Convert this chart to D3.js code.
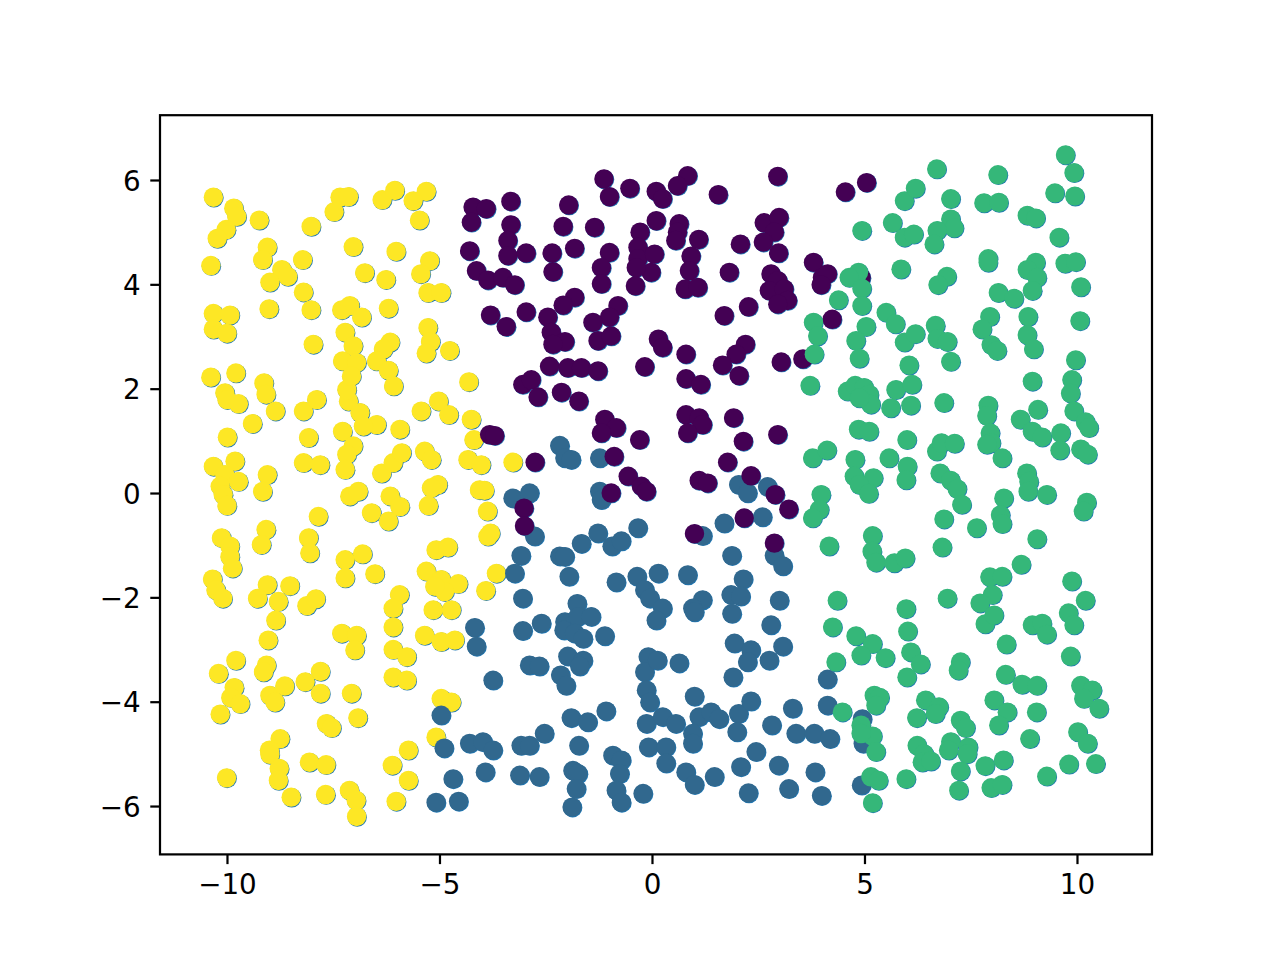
<!DOCTYPE html>
<html><head><meta charset="utf-8">
<script src="https://cdn.jsdelivr.net/npm/d3@7"></script>
<style>body{margin:0;background:#fff}svg{display:block}</style>
</head><body>
<svg id="chart" width="1280" height="960"></svg>
<script>
const xTicks = [-10, -5, 0, 5, 10];
const yTicks = [-6, -4, -2, 0, 2, 4, 6];
const clusterColors = ["#fde725", "#31688e", "#440154", "#35b779"];

const yellowPts = [[-10.32,5.67],[-9.84,5.46],[-9.77,5.30],[-9.24,5.23],[-10.02,5.05],[-10.23,4.88],[-10.38,4.36],[-9.05,4.71],[-9.16,4.47],[-8.71,4.28],[-8.57,4.15],[-8.99,4.04],[-8.22,4.47],[-8.02,5.11],[-7.34,5.67],[-7.14,5.68],[-7.48,5.39],[-6.35,5.62],[-6.05,5.80],[-7.03,4.72],[-6.02,4.63],[-8.20,3.85],[-6.76,4.22],[-6.26,4.09],[-10.32,3.44],[-9.93,3.41],[-10.32,3.14],[-10.0,3.06],[-9.01,3.53],[-8.02,3.51],[-7.30,3.51],[-7.11,3.59],[-6.83,3.37],[-7.22,3.08],[-7.03,2.82],[-6.20,3.54],[-7.97,2.85],[-6.16,2.89],[-6.32,2.76],[-7.28,2.53],[-6.95,2.50],[-6.48,2.53],
[-5.31,5.78],[-5.62,5.60],[-5.47,5.23],[-5.23,4.45],[-5.44,4.20],[-5.27,3.84],[-4.96,3.84],[-5.27,3.17],[-5.21,2.90],[-5.31,2.68],[-4.76,2.73],
[-10.38,2.22],[-9.79,2.30],[-10.05,1.92],[-10.0,1.79],[-9.73,1.71],[-9.13,2.11],[-9.08,1.89],[-8.86,1.57],[-9.40,1.33],[-9.99,1.07],[-8.20,1.57],[-7.89,1.79],[-8.08,1.06],[-8.20,0.58],[-7.81,0.54],[-7.28,1.18],[-7.14,1.76],[-7.03,0.90],[-7.18,0.74],[-7.22,0.45],[-6.87,1.54],[-6.48,1.31],[-6.79,1.28],[-7.18,1.98],[-7.07,2.24],[-5.93,1.22],[-6.36,0.38],[-6.09,0.58],[-5.89,0.77],[-10.32,0.51],[-9.81,0.61],[-10.05,0.35],[-9.73,0.22],[-10.16,0.13],[-10.09,-0.03],[-10.0,-0.24],[-9.05,0.35],[-9.16,0.03],[-7.11,-0.06],[-6.91,0.03],[-6.60,-0.38],[-6.16,-0.06],[-5.93,-0.26],[-6.20,-0.54],[-7.85,-0.45],[-8.08,-0.86],[-8.05,-1.15],[-9.08,-0.70],[-9.19,-0.99],[-10.13,-0.86],[-9.93,-1.02],[-9.93,-1.22],[-9.87,-1.44],[-10.34,-1.65],[-10.26,-1.86],[-10.10,-2.02],[-9.05,-1.76],[-9.28,-2.02],[-8.79,-2.08],[-8.52,-1.78],[-8.12,-2.16],[-7.91,-2.03],[-7.22,-1.28],[-6.81,-1.17],[-7.22,-1.63],[-6.52,-1.55],[-5.94,-1.95],[-6.09,-2.21],[-6.20,2.35],[-6.08,2.05],
[-4.31,2.13],[-5.43,1.57],[-5.02,1.76],[-4.78,1.50],[-4.25,1.41],[-4.19,1.02],[-5.35,0.80],[-5.19,0.64],[-4.33,0.64],[-4.02,0.54],[-3.27,0.59],[-5.04,0.16],[-5.19,0.10],[-4.06,0.06],[-3.94,0.05],[-5.26,-0.24],[-3.87,-0.35],[-3.80,-0.77],[-3.86,-0.83],[-5.08,-1.09],[-4.80,-1.04],[-5.31,-1.50],[-4.96,-1.66],[-4.56,-1.74],[-4.88,-1.89],[-5.11,-1.79],[-3.66,-1.54],[-3.91,-1.87],[-5.15,-2.24],[-4.72,-2.24],
[-8.85,-2.44],[-9.03,-2.82],[-7.30,-2.69],[-6.95,-2.73],[-6.99,-3.01],[-6.09,-2.57],[-6.09,-3.00],[-5.77,-3.14],[-6.09,-3.53],[-5.77,-3.59],[-9.79,-3.21],[-10.20,-3.46],[-9.07,-3.30],[-9.14,-3.43],[-9.83,-3.73],[-9.91,-3.92],[-9.69,-4.04],[-10.16,-4.24],[-8.99,-3.88],[-8.87,-4.01],[-8.64,-3.70],[-8.16,-3.62],[-7.80,-3.42],[-7.80,-3.84],[-7.07,-3.84],[-6.92,-4.31],[-7.66,-4.42],[-7.54,-4.50],[-8.75,-4.71],[-9.00,-4.93],[-8.99,-5.01],[-8.77,-5.28],[-8.79,-5.51],[-8.49,-5.83],[-10.01,-5.46],[-8.06,-5.16],[-7.67,-5.21],[-7.68,-5.78],[-7.12,-5.70],[-6.96,-5.89],[-6.95,-6.20],[-6.11,-5.22],[-6.02,-5.91],[-5.73,-4.93],[-5.73,-5.51],
[-5.35,-2.73],[-4.96,-2.85],[-4.64,-2.82],[-4.96,-3.94],[-4.72,-4.01],[-5.08,-4.68]];

const bluePts = [[-2.17,0.91],[-2.05,0.67],[-1.90,0.64],[-1.23,0.67],[-1.23,0.03],[-1.19,-0.13],[-3.27,-0.10],[-2.88,0.00],[-2.76,-0.83],[-3.08,-1.20],[-3.23,-1.54],[-3.04,-2.02],[-2.17,-1.21],[-2.05,-1.22],[-1.95,-1.60],[-1.66,-0.97],[-1.27,-0.77],[-0.94,-1.02],[-0.72,-0.92],[-0.33,-0.67],[-0.84,-1.71],[-0.35,-1.60],[-0.17,-1.86],[-0.05,-2.02],[-1.76,-2.12],
[2.04,0.16],[2.25,0.00],[2.72,0.12],[2.60,-0.46],[1.70,-0.58],[1.19,-0.82],[1.88,-1.20],[2.88,-1.20],[3.08,-1.40],[0.15,-1.54],[0.84,-1.57],[2.15,-1.65],[1.86,-1.95],[2.09,-1.98],[1.19,-2.05],[0.96,-2.21],[0.25,-2.21],[3.00,-2.06],
[-4.17,-2.58],[-4.13,-2.94],[-3.04,-2.64],[-2.60,-2.50],[-2.05,-2.47],[-2.07,-2.63],[-1.74,-2.37],[-1.43,-2.37],[-1.82,-2.69],[-1.62,-2.79],[-1.11,-2.74],[-1.98,-3.13],[-1.62,-3.21],[-1.70,-3.32],[-2.88,-3.30],[-2.65,-3.32],[-2.15,-3.49],[-2.02,-3.69],[-3.74,-3.59],[-4.96,-4.26],[-1.90,-4.31],[-1.51,-4.39],[-1.08,-4.18],[-2.53,-4.61],[-4.29,-4.80],[-3.98,-4.77],[-3.74,-4.93],[-4.89,-4.89],[-3.08,-4.84],[-2.88,-4.84],[-1.72,-4.84],[-0.92,-5.03],[-0.72,-5.12],[-0.76,-5.38],[-3.92,-5.35],[-4.68,-5.48],[-3.11,-5.41],[-2.65,-5.44],[-1.86,-5.32],[-1.74,-5.38],[-1.78,-5.67],[-5.08,-5.93],[-4.55,-5.91],[-1.88,-6.02],[-0.84,-5.70],[-0.72,-5.93],[-0.21,-5.76],[-0.09,-3.14],[-0.17,-3.43],[-0.13,-3.78],[-0.05,-4.01],[-0.13,-4.42],[-0.08,-4.87],[0.10,-2.44],
[1.00,-2.28],[1.88,-2.31],[2.80,-2.53],[1.94,-2.88],[2.33,-3.01],[2.25,-3.24],[2.76,-3.21],[3.08,-2.94],[0.13,-3.21],[0.64,-3.26],[1.91,-3.53],[1.00,-3.90],[0.25,-4.29],[0.56,-4.42],[1.11,-4.29],[1.39,-4.20],[1.58,-4.33],[0.96,-4.61],[0.96,-4.80],[2.04,-4.23],[2.33,-3.99],[2.00,-4.58],[2.82,-4.45],[3.31,-4.13],[3.39,-4.61],[3.82,-4.61],[4.19,-4.71],[4.13,-4.07],[4.13,-3.57],[0.33,-4.87],[0.33,-5.18],[2.45,-4.96],[2.09,-5.25],[2.98,-5.22],[0.80,-5.35],[1.00,-5.59],[1.47,-5.44],[2.27,-5.75],[3.22,-5.67],[3.84,-5.35],[3.99,-5.80],[4.95,-4.33],[4.97,-4.80],[4.93,-5.60]];

const purplePts = [[-4.21,5.48],[-3.90,5.45],[-4.25,5.19],[-3.32,5.59],[-3.32,5.14],[-3.39,4.84],[-4.29,4.64],[-3.39,4.55],[-2.96,4.60],[-4.13,4.26],[-3.86,4.08],[-3.51,4.13],[-3.23,3.99],[-2.35,4.60],[-2.33,4.24],[-2.09,5.11],[-1.96,5.52],[-1.35,5.09],[-1.82,4.69],[-1.13,6.02],[-1.00,5.68],[-0.52,5.84],[0.10,5.78],[0.10,5.22],[-0.28,5.00],[-0.33,4.71],[-0.33,4.49],[0.06,4.58],[-0.02,4.23],[-0.37,4.32],[-1.00,4.61],[-1.19,4.32],[-1.19,4.01],[-0.39,3.97],[-1.82,3.75],[-2.09,3.60],[-0.80,3.59],[-1.00,3.37],[-1.39,3.27],[-3.80,3.41],[-3.43,3.19],[-2.96,3.47],[-2.45,3.37],[-2.37,3.08],[-2.05,2.90],[-2.33,2.85],[-1.27,2.92],[-0.96,3.01],[0.15,2.95],
[0.84,6.08],[0.60,5.89],[0.25,5.64],[1.56,5.72],[2.96,6.07],[4.55,5.77],[5.05,5.95],[0.64,5.16],[0.60,5.00],[0.56,4.84],[1.10,4.86],[0.92,4.54],[0.88,4.26],[0.78,3.91],[1.08,3.94],[2.08,4.77],[1.82,4.23],[2.64,5.18],[2.99,5.28],[2.88,5.00],[2.62,4.81],[2.98,4.60],[2.80,4.20],[2.96,4.07],[2.76,3.88],[3.11,3.91],[3.19,3.69],[2.96,3.62],[2.27,3.57],[1.70,3.40],[3.80,4.42],[4.01,4.13],[4.13,4.20],[3.98,3.99],[4.92,4.13],[4.24,3.33],[0.25,2.79],[0.80,2.66],[2.20,2.85],[1.98,2.66],[1.66,2.45],[3.04,2.51],[3.55,2.57],
[-2.41,2.43],[-1.98,2.40],[-1.66,2.40],[-1.27,2.34],[-0.17,2.42],[-3.04,2.08],[-2.84,2.17],[-2.68,1.84],[-2.13,1.93],[-1.72,1.76],[-1.11,1.41],[-0.84,1.25],[-1.19,1.15],[-0.29,1.02],[-0.89,0.70],[-0.56,0.32],[-0.25,0.13],[-0.13,0.03],[-0.96,0.00],[-3.82,1.12],[-3.70,1.10],[-2.75,0.59],[-3.01,-0.29],[-3.00,-0.63],
[0.80,2.19],[1.15,2.08],[2.05,2.25],[0.80,1.50],[1.11,1.44],[1.19,1.31],[0.84,1.15],[1.92,1.44],[2.15,0.99],[2.96,1.12],[1.78,0.59],[1.11,0.24],[1.31,0.19],[2.33,0.33],[2.90,-0.03],[3.22,-0.31],[2.17,-0.48],[1.00,-0.78],[2.88,-0.96]];

const greenPts = [[5.94,5.60],[5.66,5.18],[5.94,4.90],[5.86,4.29],[4.94,5.03],[4.86,4.23],[4.64,4.13],[4.94,3.92],[4.39,3.70],[4.94,3.59],[5.04,3.19],[4.80,2.92],[3.80,3.27],[3.90,3.01],[5.51,3.46],[5.73,3.24],[5.94,2.89],[3.82,2.66],[4.88,2.58],
[9.73,6.48],[9.93,6.14],[9.48,5.75],[9.95,5.69],[6.70,6.21],[8.14,6.10],[6.20,5.84],[7.03,5.64],[7.81,5.56],[8.16,5.57],[8.83,5.32],[9.03,5.27],[7.03,5.25],[7.11,5.08],[6.71,5.03],[6.16,4.96],[6.64,4.77],[9.58,4.90],[7.91,4.49],[7.91,4.42],[9.03,4.42],[8.83,4.28],[9.06,4.13],[9.72,4.40],[9.97,4.43],[6.94,4.15],[6.73,3.99],[10.09,3.95],[8.15,3.84],[8.52,3.73],[8.95,3.88],[7.95,3.38],[7.77,3.14],[8.85,3.38],[8.83,3.03],[8.98,2.76],[10.07,3.30],[6.67,3.21],[6.20,3.05],[6.71,2.96],[6.95,2.90],[7.98,2.84],[8.12,2.73],[7.03,2.52],[9.97,2.55],
[3.72,2.06],[4.60,1.95],[4.78,2.06],[4.99,2.02],[5.11,1.89],[5.15,1.70],[4.88,1.82],[5.62,1.63],[5.74,1.98],[4.86,1.22],[5.11,1.18],[3.78,0.67],[4.12,0.82],[4.78,0.64],[5.58,0.67],[4.76,0.32],[5.21,0.29],[4.88,0.16],[5.10,-0.01],[3.98,-0.03],[3.94,-0.32],[3.78,-0.48],[4.17,-1.02],[5.19,-0.82],[5.18,-1.12],[5.27,-1.33],[5.70,-1.34],[4.36,-2.06],
[6.05,2.45],[8.95,2.14],[9.88,2.17],[9.85,1.91],[6.12,2.08],[6.09,1.68],[6.87,1.73],[7.91,1.68],[7.88,1.48],[9.08,1.60],[8.67,1.41],[8.95,1.18],[9.18,1.07],[9.62,1.15],[9.60,0.82],[9.93,1.57],[10.20,1.36],[10.28,1.25],[10.09,0.84],[10.25,0.74],[6.00,1.02],[7.96,1.15],[7.98,0.96],[7.88,0.93],[8.24,0.67],[6.70,0.80],[6.81,0.96],[7.12,0.95],[6.01,0.51],[5.98,0.25],[6.78,0.38],[7.03,0.24],[7.18,0.08],[7.29,-0.22],[6.87,-0.50],[7.64,-0.67],[8.28,-0.10],[8.20,-0.42],[8.24,-0.59],[8.82,0.38],[8.87,0.22],[8.85,0.03],[9.29,-0.03],[10.23,-0.18],[10.15,-0.35],[9.06,-0.88],[6.83,-1.04],[5.96,-1.25],[8.69,-1.37],[7.95,-1.61],[8.24,-1.60],[9.88,-1.69],[6.95,-2.02],[8.01,-1.95],[7.72,-2.11],[10.20,-2.06],[5.98,-2.22],[9.80,-2.30],
[4.25,-2.57],[4.80,-2.74],[5.19,-2.89],[4.92,-3.11],[5.49,-3.16],[4.33,-3.24],[5.23,-3.88],[5.36,-3.92],[5.27,-4.07],[4.48,-4.20],[4.92,-4.45],[5.19,-4.66],[4.92,-4.61],[5.27,-4.96],[5.15,-5.44],[5.33,-5.51],[5.19,-5.94],
[7.84,-2.51],[8.05,-2.34],[6.02,-2.65],[8.34,-2.90],[8.95,-2.53],[9.18,-2.50],[9.29,-2.71],[9.93,-2.53],[9.85,-3.13],[6.09,-3.05],[6.32,-3.28],[6.00,-3.53],[7.26,-3.24],[7.21,-3.40],[8.32,-3.48],[8.71,-3.67],[9.06,-3.69],[10.09,-3.69],[10.36,-3.78],[10.16,-3.94],[10.52,-4.13],[9.05,-4.20],[6.44,-3.97],[6.75,-4.10],[6.67,-4.23],[6.23,-4.31],[8.05,-3.97],[8.36,-4.20],[8.16,-4.45],[7.26,-4.36],[7.38,-4.50],[7.03,-4.77],[7.44,-4.87],[6.98,-4.93],[7.42,-5.00],[6.24,-4.84],[6.40,-5.00],[6.36,-5.16],[6.56,-5.14],[7.26,-5.33],[7.22,-5.70],[5.98,-5.48],[7.84,-5.23],[8.27,-5.12],[7.98,-5.65],[8.24,-5.59],[8.89,-4.71],[10.02,-4.58],[10.25,-4.80],[9.81,-5.20],[10.44,-5.19],[9.29,-5.43]];

const clusters = [yellowPts, bluePts, purplePts, greenPts];

const svg = d3.select("#chart");
const W = 1280, H = 960;
const L = 160, R = 1152, T = 115.2, B = 854.4;
const x = d3.scaleLinear().domain([-11.576, 11.765]).range([L, R]);
const y = d3.scaleLinear().domain([-6.927, 7.242]).range([B, T]);
const lw = 0.8 * 200 / 72;
const fs = 10 * 200 / 72;

svg.append("rect").attr("width", W).attr("height", H).attr("fill", "#fff");
svg.append("clipPath").attr("id", "clip").append("rect")
  .attr("x", L).attr("y", T).attr("width", R - L).attr("height", B - T);

const g = svg.append("g").attr("clip-path", "url(#clip)");
const rad = 9.7;
const all = [];
clusters.forEach((pts, ci) => pts.forEach(p => all.push({x: p[0], y: p[1], c: ci})));
// first pass: default-colour scatter underneath
g.selectAll("circle.under").data(all).join("circle").attr("class", "under")
  .attr("cx", d => x(d.x) + 0.6).attr("cy", d => y(d.y) + 0.6).attr("r", rad)
  .attr("fill", "#1f77b4");
// second pass: cluster-coloured scatter
g.selectAll("circle.top").data(all).join("circle").attr("class", "top")
  .attr("cx", d => x(d.x)).attr("cy", d => y(d.y)).attr("r", rad)
  .attr("fill", d => clusterColors[d.c]);

const xAxis = d3.axisBottom(x).tickValues(xTicks).tickSize(lw * 0 + 9.72).tickPadding(9.72);
const yAxis = d3.axisLeft(y).tickValues(yTicks).tickSize(9.72).tickPadding(9.72);
const gx = svg.append("g").attr("transform", `translate(0,${B})`).call(xAxis);
const gy = svg.append("g").attr("transform", `translate(${L},0)`).call(yAxis);
[gx, gy].forEach(a => {
  a.select(".domain").remove();
  a.selectAll(".tick line").attr("stroke", "#000").attr("stroke-width", lw);
  a.selectAll(".tick text").attr("fill", "#000")
    .style("font-family", "'DejaVu Sans', sans-serif").style("font-size", fs + "px");
});
gy.selectAll(".tick text").attr("dy", "0.36em");

svg.append("rect").attr("x", L).attr("y", T).attr("width", R - L).attr("height", B - T)
  .attr("fill", "none").attr("stroke", "#000").attr("stroke-width", lw);
</script>
</body></html>
